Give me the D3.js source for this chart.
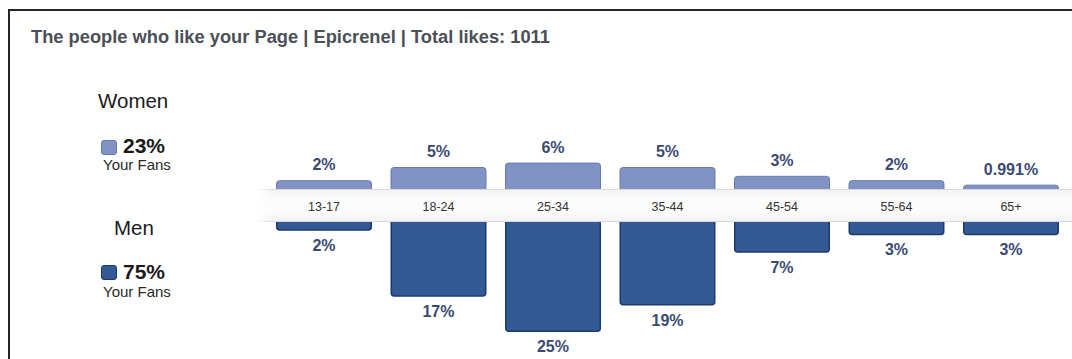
<!DOCTYPE html>
<html>
<head>
<meta charset="utf-8">
<script src="https://cdn.jsdelivr.net/npm/d3@7"></script>
<style>
  html, body { margin: 0; padding: 0; background: #fff; }
  svg { display: block; font-family: "Liberation Sans", Arial, sans-serif; }
</style>
</head>
<body>
<svg id="chart" width="1072" height="359"></svg>
<script>
const title = "The people who like your Page | Epicrenel | Total likes: 1011";
const categories = ["13-17", "18-24", "25-34", "35-44", "45-54", "55-64", "65+"];
const women = [2, 5, 6, 5, 3, 2, 0.991];
const men = [2, 17, 25, 19, 7, 3, 3];
const genders = ["Women", "Men"];
const genderTotals = [23, 75];
const fansLabel = "Your Fans";

const svg = d3.select("#chart");
const W = 1072, H = 359;

// frame lines (top and left)
svg.append("rect").attr("x", 0).attr("y", 0).attr("width", W).attr("height", H).attr("fill", "#fff");
svg.append("line").attr("x1", 9).attr("x2", W).attr("y1", 10).attr("y2", 10)
  .attr("stroke", "#262626").attr("stroke-width", 2);
svg.append("line").attr("x1", 9).attr("x2", 9).attr("y1", 9).attr("y2", H)
  .attr("stroke", "#262626").attr("stroke-width", 2);

// title
svg.append("text").attr("x", 31).attr("y", 43)
  .attr("font-size", 18.3).attr("font-weight", "bold").attr("fill", "#4b4f56")
  .text(title);

const womenFill = "#8193c4", womenStroke = "#687bad";
const menFill = "#345a95", menStroke = "#1d3a70";
const labelColor = "#3a4a72";

// legend
const legend = [
  { name: genders[0], total: genderTotals[0], nameX: 98, nameY: 108, sqY: 140, pctY: 153, fansY: 170, fill: womenFill, stroke: womenStroke },
  { name: genders[1], total: genderTotals[1], nameX: 114, nameY: 235, sqY: 265, pctY: 279, fansY: 297, fill: menFill, stroke: menStroke }
];
legend.forEach(d => {
  svg.append("text").attr("x", d.nameX).attr("y", d.nameY)
    .attr("font-size", 20.5).attr("fill", "#1a1a1a").text(d.name);
  svg.append("rect").attr("x", 101.5).attr("y", d.sqY + 0.5).attr("width", 15).attr("height", 14)
    .attr("rx", 2.5).attr("fill", d.fill).attr("stroke", d.stroke).attr("stroke-width", 1);
  svg.append("text").attr("x", 123).attr("y", d.pctY)
    .attr("font-size", 21).attr("font-weight", "bold").attr("fill", "#1a1a1a").text(d.total + "%");
  svg.append("text").attr("x", 103).attr("y", d.fansY)
    .attr("font-size", 15).attr("fill", "#2a2a2a").text(fansLabel);
});

// scales
const x = d3.scaleBand().domain(categories).range([276, 1059]).paddingInner(0.1616).paddingOuter(0);
const y = d3.scaleLinear().domain([0, 25]).range([0, 110]);
const bandTop = 189, bandBottom = 222;

// women bars (upwards)
svg.append("g").selectAll("rect").data(women).join("rect")
  .attr("x", (d, i) => x(categories[i]) + 0.5)
  .attr("y", d => bandTop - y(d) + 0.5)
  .attr("width", x.bandwidth() - 1)
  .attr("height", d => y(d) + 8)
  .attr("rx", 3)
  .attr("fill", womenFill).attr("stroke", womenStroke).attr("stroke-width", 1);

// men bars (downwards)
svg.append("g").selectAll("rect").data(men).join("rect")
  .attr("x", (d, i) => x(categories[i]) + 0.75)
  .attr("y", bandBottom - 8)
  .attr("width", x.bandwidth() - 1.5)
  .attr("height", d => y(d) + 8 - 0.75)
  .attr("rx", 3)
  .attr("fill", menFill).attr("stroke", menStroke).attr("stroke-width", 1.5);

// category band
const defs = svg.append("defs");
const gv = defs.append("linearGradient").attr("id", "bandV").attr("x1", 0).attr("x2", 0).attr("y1", 0).attr("y2", 1);
gv.append("stop").attr("offset", "0%").attr("stop-color", "#f2f2f2");
gv.append("stop").attr("offset", "30%").attr("stop-color", "#fcfcfc");
gv.append("stop").attr("offset", "70%").attr("stop-color", "#fcfcfc");
gv.append("stop").attr("offset", "100%").attr("stop-color", "#f1f1f1");
const gh = defs.append("linearGradient").attr("id", "bandH").attr("x1", 0).attr("x2", 1).attr("y1", 0).attr("y2", 0);
gh.append("stop").attr("offset", "0%").attr("stop-color", "#fff").attr("stop-opacity", 1);
gh.append("stop").attr("offset", "100%").attr("stop-color", "#fff").attr("stop-opacity", 0);

svg.append("rect").attr("x", 257).attr("y", bandTop).attr("width", W - 257).attr("height", bandBottom - bandTop)
  .attr("fill", "url(#bandV)");
svg.append("line").attr("x1", 257).attr("x2", W).attr("y1", bandTop + 0.5).attr("y2", bandTop + 0.5)
  .attr("stroke", "#d9d9d9").attr("stroke-width", 1);
svg.append("line").attr("x1", 257).attr("x2", W).attr("y1", bandBottom - 0.5).attr("y2", bandBottom - 0.5)
  .attr("stroke", "#d9d9d9").attr("stroke-width", 1);
svg.append("rect").attr("x", 255).attr("y", bandTop - 1).attr("width", 18).attr("height", bandBottom - bandTop + 2)
  .attr("fill", "url(#bandH)");

// category labels
svg.append("g").selectAll("text").data(categories).join("text")
  .attr("x", d => x(d) + x.bandwidth() / 2)
  .attr("y", 210.5)
  .attr("text-anchor", "middle")
  .attr("font-size", 12.5).attr("fill", "#333")
  .text(d => d);

// value labels
svg.append("g").selectAll("text").data(women).join("text")
  .attr("x", (d, i) => x(categories[i]) + x.bandwidth() / 2)
  .attr("y", d => bandTop - y(d) - 10)
  .attr("text-anchor", "middle")
  .attr("font-size", 16).attr("font-weight", "bold").attr("fill", labelColor)
  .text(d => d + "%");

svg.append("g").selectAll("text").data(men).join("text")
  .attr("x", (d, i) => x(categories[i]) + x.bandwidth() / 2)
  .attr("y", d => bandBottom + y(d) + 20)
  .attr("text-anchor", "middle")
  .attr("font-size", 16).attr("font-weight", "bold").attr("fill", labelColor)
  .text(d => d + "%");
</script>
</body>
</html>
